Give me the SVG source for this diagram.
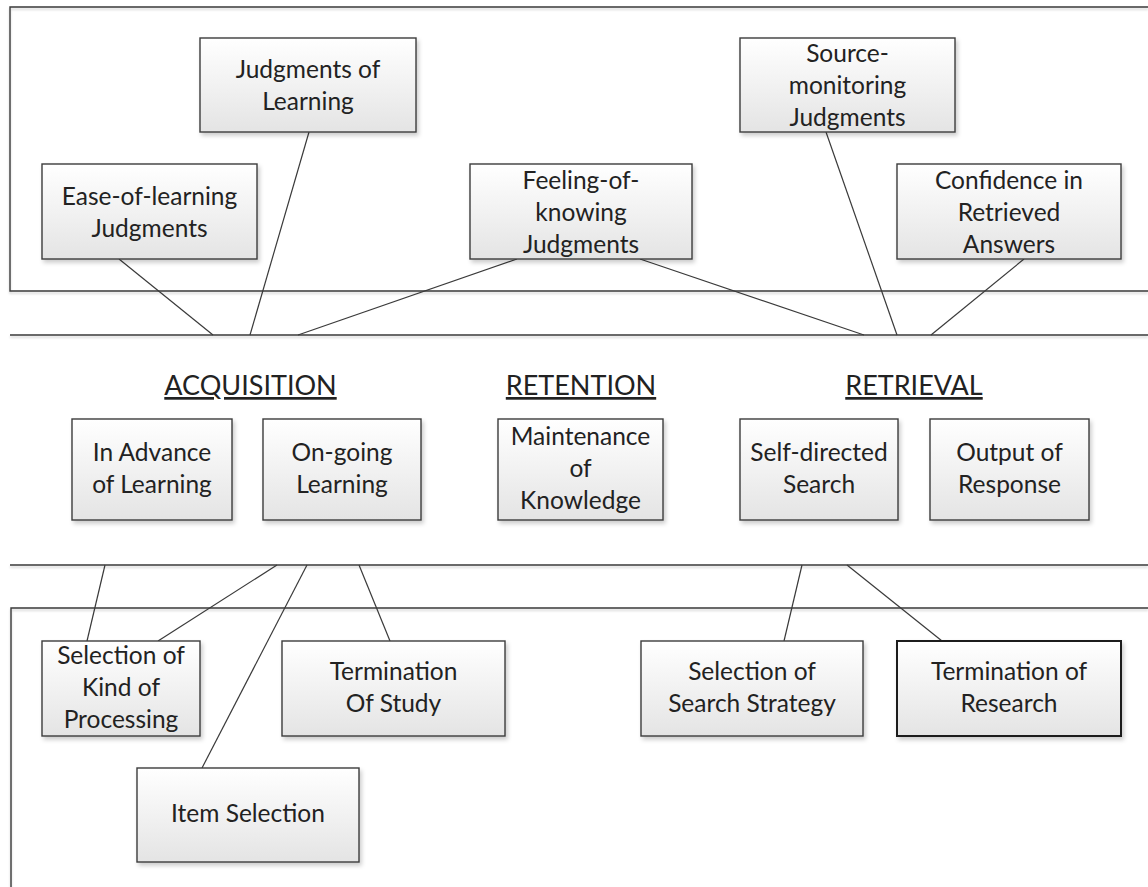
<svg xmlns="http://www.w3.org/2000/svg" width="1148" height="887" viewBox="0 0 1148 887">
  <defs>
    <linearGradient id="boxFill" x1="0" y1="0" x2="0" y2="1">
      <stop offset="0" stop-color="#ffffff"/>
      <stop offset="1" stop-color="#e4e4e4"/>
    </linearGradient>
    <filter id="shadow" x="-10%" y="-10%" width="125%" height="130%">
      <feDropShadow dx="2" dy="3" stdDeviation="2.2" flood-color="#000" flood-opacity="0.2"/>
    </filter>
    <filter id="lineShadow" x="-2%" y="-50%" width="104%" height="300%">
      <feDropShadow dx="0" dy="2" stdDeviation="1.2" flood-color="#000" flood-opacity="0.18"/>
    </filter>
  </defs>
  <style>
    .frame { fill: none; stroke: #3a3a3a; stroke-width: 1.4; }
    .conn line { stroke: #3a3a3a; stroke-width: 1.2; }
    .box { fill: url(#boxFill); stroke: #3c3c3c; stroke-width: 1.4; filter: url(#shadow); }
    .box.dark { stroke: #1c1c1c; stroke-width: 2; }
    text { font-family: Lato, "Liberation Sans", sans-serif; fill: #222222; text-anchor: middle; }
    .lbl { font-size: 24.5px; }
    .head { font-size: 27px; text-decoration: underline; }
  </style>
  <rect width="1148" height="887" fill="#ffffff"/>

  <!-- band frames -->
  <g id="frames" filter="url(#lineShadow)">
    <path class="frame" d="M1148,7 H10 V291 H1148"/>
    <path class="frame" d="M10,335 H1148"/>
    <path class="frame" d="M10,565 H1148"/>
    <path class="frame" d="M1148,608 H11 V887"/>
  </g>

  <!-- connectors -->
  <g id="connectors" class="conn">
    <line x1="119" y1="259" x2="213" y2="335"/>
    <line x1="309" y1="132" x2="250" y2="335"/>
    <line x1="517" y1="259" x2="298" y2="335"/>
    <line x1="640" y1="259" x2="864" y2="335"/>
    <line x1="826" y1="132" x2="897" y2="335"/>
    <line x1="1024" y1="259" x2="931" y2="335"/>
    <line x1="105" y1="565" x2="87" y2="641"/>
    <line x1="277" y1="565" x2="158" y2="641"/>
    <line x1="307" y1="565" x2="202" y2="768"/>
    <line x1="359" y1="565" x2="390" y2="641"/>
    <line x1="802" y1="565" x2="784" y2="641"/>
    <line x1="847" y1="565" x2="942" y2="641"/>
  </g>

  <!-- monitoring judgments -->
  <g id="judgments-of-learning">
    <rect class="box" x="200" y="38" width="216" height="94"/>
    <text class="lbl" x="308" y="78">Judgments of</text>
    <text class="lbl" x="308" y="110">Learning</text>
  </g>
  <g id="ease-of-learning">
    <rect class="box" x="42" y="164" width="215" height="95"/>
    <text class="lbl" x="149.5" y="205">Ease-of-learning</text>
    <text class="lbl" x="149.5" y="237">Judgments</text>
  </g>
  <g id="feeling-of-knowing">
    <rect class="box" x="470" y="164" width="222" height="95"/>
    <text class="lbl" x="581" y="189">Feeling-of-</text>
    <text class="lbl" x="581" y="221">knowing</text>
    <text class="lbl" x="581" y="253">Judgments</text>
  </g>
  <g id="source-monitoring">
    <rect class="box" x="740" y="38" width="215" height="94"/>
    <text class="lbl" x="847.5" y="62">Source-</text>
    <text class="lbl" x="847.5" y="94">monitoring</text>
    <text class="lbl" x="847.5" y="126">Judgments</text>
  </g>
  <g id="confidence">
    <rect class="box" x="897" y="164" width="224" height="95"/>
    <text class="lbl" x="1009" y="189">Confidence in</text>
    <text class="lbl" x="1009" y="221">Retrieved</text>
    <text class="lbl" x="1009" y="253">Answers</text>
  </g>

  <!-- memory stages -->
  <g id="acquisition">
    <text class="head" x="250.5" y="395">ACQUISITION</text>
  </g>
  <g id="retention">
    <text class="head" x="581" y="395">RETENTION</text>
  </g>
  <g id="retrieval">
    <text class="head" x="914" y="395">RETRIEVAL</text>
  </g>
  <g id="in-advance">
    <rect class="box" x="72" y="419" width="160" height="101"/>
    <text class="lbl" x="152" y="461">In Advance</text>
    <text class="lbl" x="152" y="493">of Learning</text>
  </g>
  <g id="on-going">
    <rect class="box" x="263" y="419" width="158" height="101"/>
    <text class="lbl" x="342" y="461">On-going</text>
    <text class="lbl" x="342" y="493">Learning</text>
  </g>
  <g id="maintenance">
    <rect class="box" x="498" y="419" width="165" height="101"/>
    <text class="lbl" x="580.5" y="445">Maintenance</text>
    <text class="lbl" x="580.5" y="477">of</text>
    <text class="lbl" x="580.5" y="509">Knowledge</text>
  </g>
  <g id="self-directed">
    <rect class="box" x="740" y="419" width="158" height="101"/>
    <text class="lbl" x="819" y="461">Self-directed</text>
    <text class="lbl" x="819" y="493">Search</text>
  </g>
  <g id="output-of-response">
    <rect class="box" x="930" y="419" width="159" height="101"/>
    <text class="lbl" x="1009.5" y="461">Output of</text>
    <text class="lbl" x="1009.5" y="493">Response</text>
  </g>

  <!-- control processes -->
  <g id="selection-kind">
    <rect class="box" x="42" y="641" width="158" height="95"/>
    <text class="lbl" x="121" y="664">Selection of</text>
    <text class="lbl" x="121" y="696">Kind of</text>
    <text class="lbl" x="121" y="728">Processing</text>
  </g>
  <g id="termination-study">
    <rect class="box" x="282" y="641" width="223" height="95"/>
    <text class="lbl" x="393.5" y="680">Termination</text>
    <text class="lbl" x="393.5" y="712">Of Study</text>
  </g>
  <g id="item-selection">
    <rect class="box" x="137" y="768" width="222" height="94"/>
    <text class="lbl" x="248" y="822">Item Selection</text>
  </g>
  <g id="search-strategy">
    <rect class="box" x="641" y="641" width="222" height="95"/>
    <text class="lbl" x="752" y="680">Selection of</text>
    <text class="lbl" x="752" y="712">Search Strategy</text>
  </g>
  <g id="termination-research">
    <rect class="box dark" x="897" y="641" width="224" height="95"/>
    <text class="lbl" x="1009" y="680">Termination of</text>
    <text class="lbl" x="1009" y="712">Research</text>
  </g>
</svg>
